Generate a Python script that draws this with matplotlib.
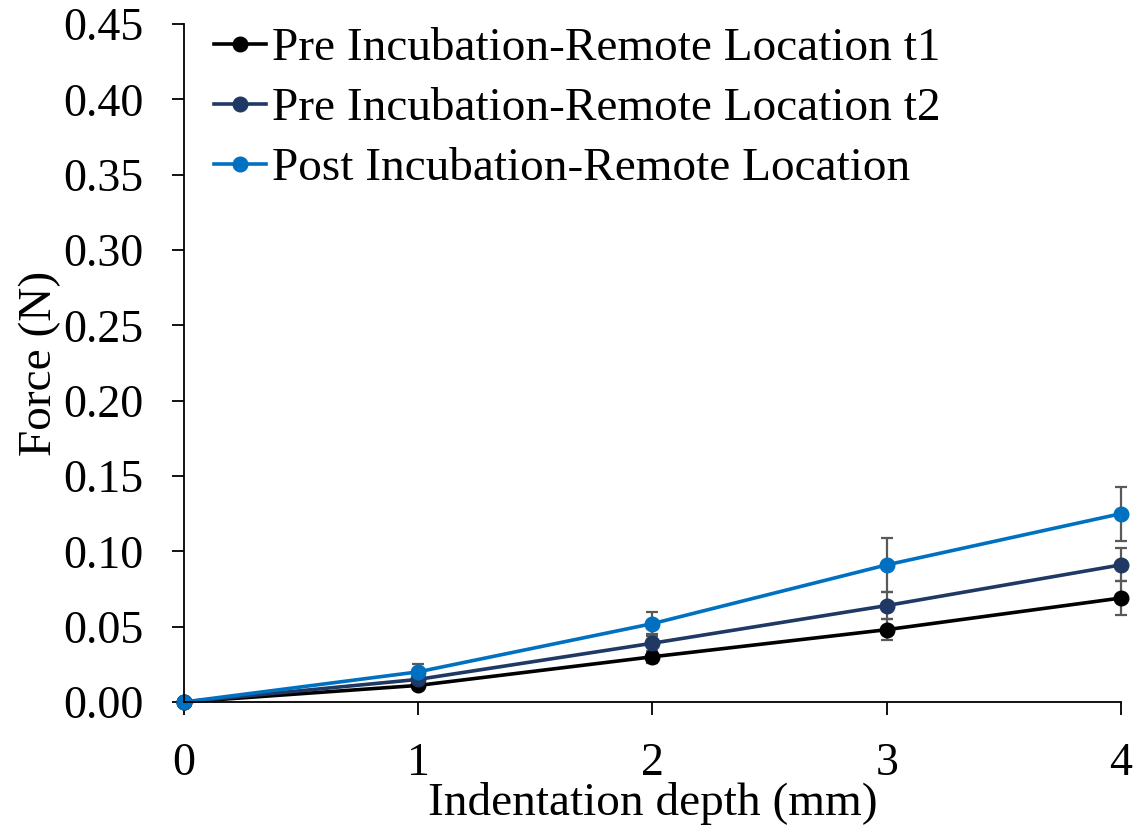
import numpy as np
import matplotlib
matplotlib.use('Agg')
import matplotlib.pyplot as plt

plt.rcParams['font.family'] = ['Liberation Serif', 'DejaVu Serif']

depth = [0, 1, 2, 3, 4]
labels = ['Pre Incubation-Remote Location t1',
          'Pre Incubation-Remote Location t2',
          'Post Incubation-Remote Location']
pre_t1 = [0.0, 0.011, 0.030, 0.048, 0.069]
pre_t2 = [0.0, 0.015, 0.039, 0.064, 0.091]
post = [0.0, 0.020, 0.052, 0.091, 0.125]
err_t1 = [0.0, 0.002, 0.004, 0.007, 0.011]
err_t2 = [0.0, 0.003, 0.006, 0.009, 0.011]
err_post = [0.0, 0.005, 0.008, 0.018, 0.018]
colors = ['#000000', '#1F3864', '#0070C0']

fig = plt.figure(figsize=(11.45, 8.34), dpi=100)
ax = fig.add_axes([0.1607, 0.1583, 0.979 - 0.1607, 0.9712 - 0.1583])

series = [pre_t1, pre_t2, post]
errs = [err_t1, err_t2, err_post]
for vals, e, c, lab in zip(series, errs, colors, labels):
    ax.errorbar(depth, vals, yerr=e, fmt='none', ecolor='#595959',
                elinewidth=1.6, capsize=4, capthick=1.6, zorder=1,
                clip_on=False)
    ax.plot(depth, vals, color=c, lw=2.6, marker='o', markersize=10.5,
            label=lab, zorder=2, clip_on=False)

ax.set_xlim(0, 4)
ax.set_ylim(0, 0.45)
ax.set_xticks(range(5))
ax.set_yticks(np.arange(0, 0.451, 0.05))
ax.yaxis.set_major_formatter(matplotlib.ticker.FormatStrFormatter('%.2f'))
ax.tick_params(labelsize=33, direction='out', length=9, width=1.3)
ax.tick_params(axis='y', pad=20)
ax.tick_params(axis='x', pad=20)
for s in ['top', 'right']:
    ax.spines[s].set_visible(False)
for s in ['left', 'bottom']:
    ax.spines[s].set_linewidth(1.3)

ax.set_xlabel('Indentation depth (mm)', fontsize=34, labelpad=-2)
ax.set_ylabel('Force (N)', fontsize=34, labelpad=2)

ax.legend(loc='upper left', bbox_to_anchor=(0.012, 1.023), frameon=False,
          fontsize=34, handlelength=1.1, handletextpad=0.12,
          labelspacing=0.36, borderaxespad=0)

fig.savefig('out.png', dpi=100)
